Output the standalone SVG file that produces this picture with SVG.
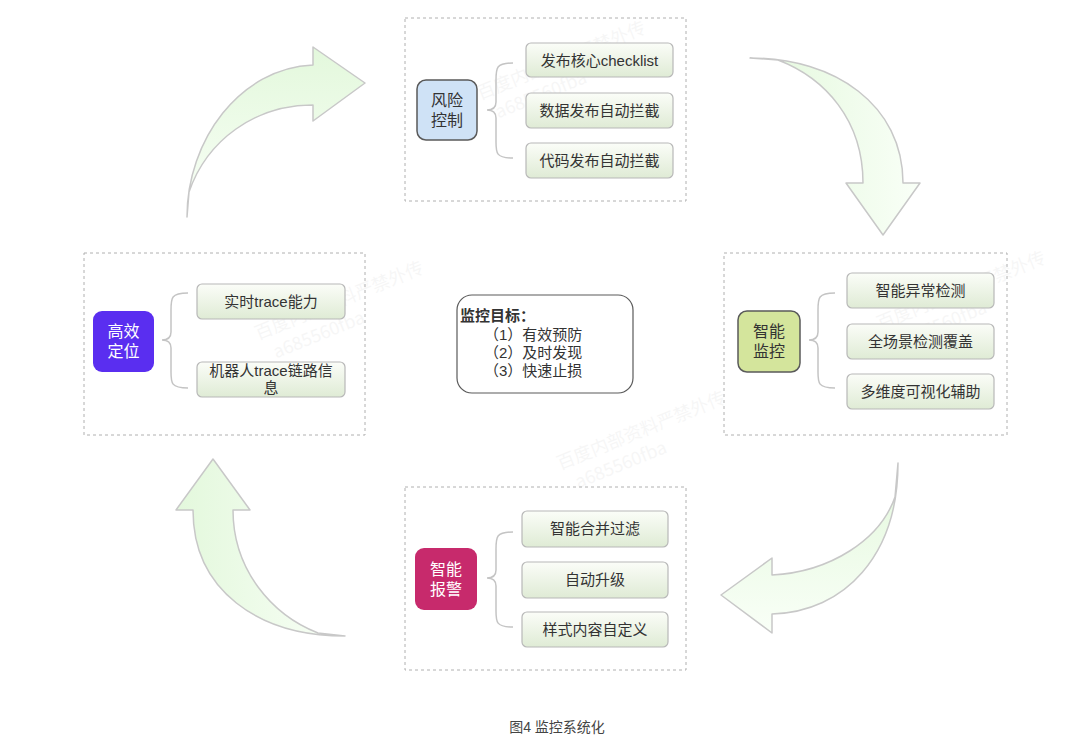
<svg xmlns="http://www.w3.org/2000/svg" width="1080" height="743" viewBox="0 0 1080 743">
<defs>
<linearGradient id="child" x1="0" y1="0" x2="0" y2="1">
<stop offset="0" stop-color="#fbfdf8"/>
<stop offset="1" stop-color="#dfebd5"/>
</linearGradient>
<linearGradient id="arrowH" x1="0" y1="0" x2="1" y2="0">
<stop offset="0" stop-color="#e3f8dc"/>
<stop offset="1" stop-color="#f9fff7"/>
</linearGradient>
<linearGradient id="arrowV" x1="0" y1="0" x2="0" y2="1">
<stop offset="0" stop-color="#e3f8dc"/>
<stop offset="1" stop-color="#f9fff7"/>
</linearGradient>
<style>
.dash{fill:none;stroke:#b0b0b0;stroke-width:1;stroke-dasharray:3 3}
.child{fill:url(#child);stroke:#b8b8b8;stroke-width:1.2}
.ct{font-family:"Liberation Sans","Noto Sans CJK SC",sans-serif;font-size:15px;fill:#333;text-anchor:middle}
.nt{font-family:"Liberation Sans","Noto Sans CJK SC",sans-serif;font-size:16px;text-anchor:middle}
.brace{fill:none;stroke:#c4c4c4;stroke-width:1.5}
.arrow{stroke:#c8c8c8;stroke-width:1.5;stroke-linejoin:round}
.wm{font-family:"Noto Sans CJK SC",sans-serif;font-size:18px;fill:#000;opacity:0.03}
.gt{font-family:"Liberation Sans","Noto Sans CJK SC",sans-serif;font-size:15px;fill:#333}
</style>
</defs>
<rect width="1080" height="743" fill="#ffffff"/>

<g id="watermark">
<g transform="translate(258,340) rotate(-22)"><text class="wm" x="0" y="0">百度内部资料严禁外传</text><text class="wm" x="10" y="24">a685560fba</text></g>
<g transform="translate(560,470) rotate(-22)"><text class="wm" x="0" y="0">百度内部资料严禁外传</text><text class="wm" x="10" y="24">a685560fba</text></g>
<g transform="translate(880,330) rotate(-22)"><text class="wm" x="0" y="0">百度内部资料严禁外传</text><text class="wm" x="10" y="24">a685560fba</text></g>
<g transform="translate(480,100) rotate(-22)"><text class="wm" x="0" y="0">百度内部资料严禁外传</text><text class="wm" x="10" y="24">a685560fba</text></g>
</g>

<g id="connectors">
<path class="arrow" fill="url(#arrowV)" d="M187,217 C187,140 240,68 313,65 L313,47 L365,83 L313,121 L313,105 C255,105 207,140 189,192 Z"/>
<path class="arrow" fill="url(#arrowH)" d="M750,58 C835,58 903,105 903,183 L920,183 L883,235 L846,183 L863,183 C863,120 825,78 778,60 Z"/>
<path class="arrow" fill="url(#arrowV)" d="M898,463 C898,555 845,612 772,614 L772,633 L721,595 L772,558 L772,575 C830,572 880,540 895,497 Z"/>
<path class="arrow" fill="url(#arrowH)" d="M345,636 C258,636 193,590 193,510 L176,510 L213,459 L250,510 L233,510 C233,570 272,615 318,633 Z"/>
</g>

<g id="module-top">
<rect class="dash" x="405" y="18" width="281" height="183"/>
<path class="brace" d="M513,63 C496,63 496,68 496,80 L496,102 C496,108 492,110 487,110 C492,110 496,112 496,118 L496,142 C496,153 496,158 513,158"/>
<g id="node-risk"><rect x="417" y="80" width="60" height="60" rx="9" fill="#cfe2f6" stroke="#5a5a5a" stroke-width="1.5"/>
<text class="nt" fill="#333" x="447" y="106">风险</text><text class="nt" fill="#333" x="447" y="126">控制</text></g>
<g id="top-c1"><rect class="child" x="526" y="43" width="147" height="34" rx="5"/><text class="ct" x="599.5" y="65.5">发布核心checklist</text></g>
<g id="top-c2"><rect class="child" x="526" y="93" width="147" height="35" rx="5"/><text class="ct" x="599.5" y="116">数据发布自动拦截</text></g>
<g id="top-c3"><rect class="child" x="526" y="143" width="147" height="35" rx="5"/><text class="ct" x="599.5" y="166">代码发布自动拦截</text></g>
</g>

<g id="module-right">
<rect class="dash" x="724" y="253" width="283" height="182"/>
<path class="brace" d="M835,293 C818,293 818,298 818,310 L818,332 C818,338 814,340 809,340 C814,340 818,342 818,348 L818,372 C818,383 818,388 835,388"/>
<g id="node-monitor"><rect x="738" y="311" width="62" height="61" rx="9" fill="#d4e59c" stroke="#5a5a5a" stroke-width="1.5"/>
<text class="nt" fill="#333" x="769" y="337">智能</text><text class="nt" fill="#333" x="769" y="357">监控</text></g>
<g id="right-c1"><rect class="child" x="847" y="273" width="147" height="35" rx="5"/><text class="ct" x="920.5" y="296">智能异常检测</text></g>
<g id="right-c2"><rect class="child" x="847" y="324" width="147" height="35" rx="5"/><text class="ct" x="920.5" y="347">全场景检测覆盖</text></g>
<g id="right-c3"><rect class="child" x="847" y="374" width="147" height="35" rx="5"/><text class="ct" x="920.5" y="397">多维度可视化辅助</text></g>
</g>

<g id="module-bottom">
<rect class="dash" x="405" y="487" width="281" height="183"/>
<path class="brace" d="M513,532 C496,532 496,537 496,549 L496,570 C496,576 492,578 487,578 C492,578 496,580 496,586 L496,611 C496,622 496,627 513,627"/>
<g id="node-alarm"><rect x="415" y="548" width="62" height="62" rx="9" fill="#c72a6c"/>
<text class="nt" fill="#ffffff" x="446" y="575">智能</text><text class="nt" fill="#ffffff" x="446" y="595">报警</text></g>
<g id="bottom-c1"><rect class="child" x="522" y="511" width="146" height="36" rx="5"/><text class="ct" x="595" y="534">智能合并过滤</text></g>
<g id="bottom-c2"><rect class="child" x="522" y="562" width="146" height="36" rx="5"/><text class="ct" x="595" y="585">自动升级</text></g>
<g id="bottom-c3"><rect class="child" x="522" y="612" width="146" height="35" rx="5"/><text class="ct" x="595" y="635">样式内容自定义</text></g>
</g>

<g id="module-left">
<rect class="dash" x="84" y="253" width="281" height="182"/>
<path class="brace" d="M188,293 C171,293 171,298 171,310 L171,332 C171,338 167,340 162,340 C167,340 171,342 171,348 L171,372 C171,383 171,388 188,388"/>
<g id="node-locate"><rect x="93" y="311" width="61" height="61" rx="9" fill="#5a2ef0"/>
<text class="nt" fill="#ffffff" x="123.5" y="337">高效</text><text class="nt" fill="#ffffff" x="123.5" y="357">定位</text></g>
<g id="left-c1"><rect class="child" x="197" y="284" width="148" height="35" rx="5"/><text class="ct" x="271" y="307">实时trace能力</text></g>
<g id="left-c2"><rect class="child" x="197" y="362" width="148" height="35" rx="5"/><text class="ct" x="271" y="376">机器人trace链路信</text><text class="ct" x="271" y="393">息</text></g>
</g>

<g id="goal">
<rect x="457" y="295" width="176" height="98" rx="15" fill="#ffffff" stroke="#5a5a5a" stroke-width="1.2"/>
<text class="gt" fill="#111" font-weight="bold" x="460" y="321">监控目标：</text>
<text class="gt" x="484" y="340">（1）有效预防</text>
<text class="gt" x="484" y="358">（2）及时发现</text>
<text class="gt" x="484" y="376">（3）快速止损</text>
</g>

<text x="557" y="732" font-family="Liberation Sans,'Noto Sans CJK SC',sans-serif" font-size="14" fill="#444" text-anchor="middle">图4 监控系统化</text>
</svg>
